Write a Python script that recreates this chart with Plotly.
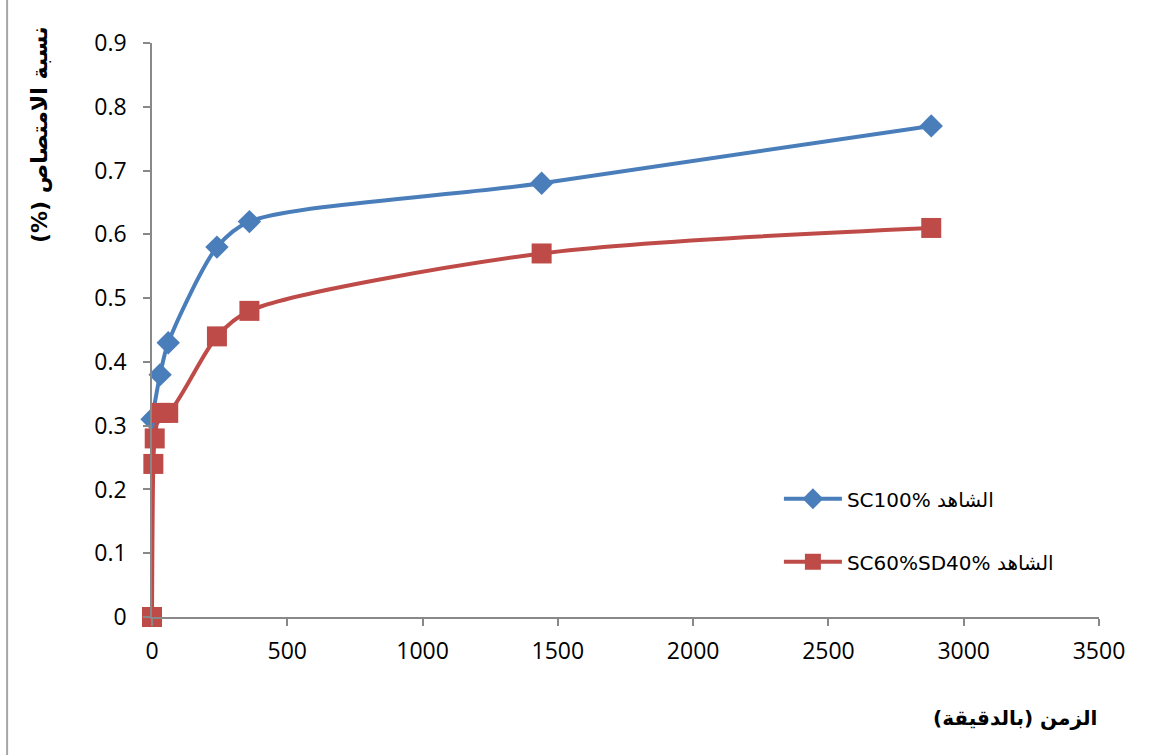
import plotly.graph_objects as go

# Data
time_sc100 = [0, 30, 60, 240, 360, 1440, 2880]
abs_sc100 = [0.31, 0.38, 0.43, 0.58, 0.62, 0.68, 0.77]
time_sc60 = [0, 5, 10, 30, 60, 240, 360, 1440, 2880]
abs_sc60 = [0, 0.24, 0.28, 0.32, 0.32, 0.44, 0.48, 0.57, 0.61]
name_sc100 = "SC100% الشاهد"
name_sc60 = "SC60%SD40% الشاهد"
x_title = "الزمن (بالدقيقة)"
y_title = "نسبة الامتصاص (%)"

fig = go.Figure()
fig.add_trace(go.Scatter(
    x=time_sc100, y=abs_sc100, name=name_sc100, mode="lines+markers",
    line=dict(color="#4a7ebb", width=4, shape="spline", smoothing=0.8),
    marker=dict(symbol="diamond", size=18, color="#4a7ebb"),
    legendgroup="a", cliponaxis=False,
))
fig.add_trace(go.Scatter(
    x=time_sc60, y=abs_sc60, name=name_sc60, mode="lines+markers",
    line=dict(color="#be4b48", width=4, shape="spline", smoothing=0.8),
    marker=dict(symbol="square", size=20, color="#be4b48"),
    legendgroup="b", cliponaxis=False,
))

axis_common = dict(
    showgrid=False, zeroline=False, showline=True, linecolor="#888888", linewidth=1.5,
    ticks="outside", ticklen=7, tickcolor="#888888", tickwidth=1.5,
    tickfont=dict(family="Open Sans, Noto Sans, sans-serif", size=23, color="black"),
)
fig.update_xaxes(range=[0, 3500], dtick=500, tick0=0, ticklabelstandoff=6, **axis_common)
fig.update_yaxes(range=[0, 0.9], dtick=0.1, tick0=0, tickformat="~g",
                 ticklabelstandoff=12, **axis_common)

fig.update_layout(
    width=1157, height=755,
    margin=dict(l=152, r=58, t=43, b=138),
    plot_bgcolor="white", paper_bgcolor="white",
    showlegend=True,
    legend=dict(
        x=0.662, y=0.24, xanchor="left", yanchor="top",
        font=dict(family="DejaVu Sans, Open Sans, sans-serif", size=20, color="black"),
        tracegroupgap=34, traceorder="grouped", bgcolor="rgba(0,0,0,0)",
        itemwidth=58,
    ),
    annotations=[
        dict(text="<b>\u202B" + y_title + "\u202C</b>", xref="paper", yref="paper",
             x=-0.118, y=0.84, xanchor="center", yanchor="middle",
             textangle=-90, showarrow=False,
             font=dict(family="DejaVu Sans, sans-serif", size=22, color="black")),
        dict(text="<b>" + x_title + "</b>", xref="paper", yref="paper",
             x=0.911, y=-0.176, xanchor="center", yanchor="middle", showarrow=False,
             font=dict(family="DejaVu Sans, sans-serif", size=20, color="black")),
    ],
    shapes=[
        dict(type="line", xref="paper", yref="paper", x0=-0.153, x1=-0.153,
             y0=-0.3, y1=1.2, line=dict(color="#a6a6a6", width=2)),
    ],
)

fig.write_html("out.html")
